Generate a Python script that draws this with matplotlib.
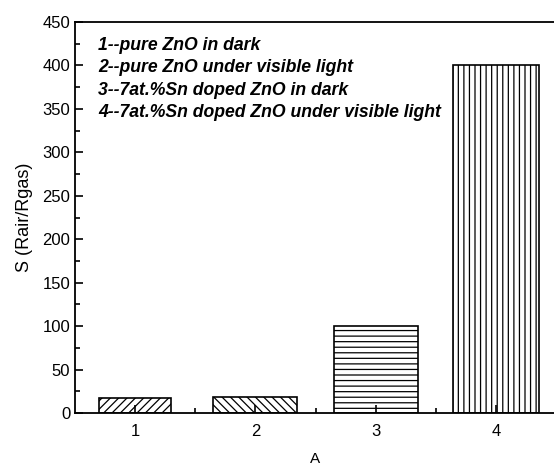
import matplotlib
matplotlib.use("Agg")
import matplotlib.pyplot as plt
from matplotlib.ticker import MultipleLocator, FixedLocator

plt.rcParams['font.family'] = ['Liberation Sans', 'DejaVu Sans']
plt.rcParams['hatch.linewidth'] = 0.9

# sensor response for the four samples
samples = [1, 2, 3, 4]
response = [17, 18, 100, 400]
bar_widths = [0.6, 0.7, 0.7, 0.72]
hatches = ['////', '\\\\\\\\', '---', '|||']
notes = ["1--pure ZnO in dark",
         "2--pure ZnO under visible light",
         "3--7at.%Sn doped ZnO in dark",
         "4--7at.%Sn doped ZnO under visible light"]

fig = plt.figure(figsize=(5.54, 4.67), dpi=100)
# right spine sits just past the edge of the canvas
ax = fig.add_axes([75 / 554, 54 / 467, 481 / 554, 391 / 467])

for x, y, w, h in zip(samples, response, bar_widths, hatches):
    ax.bar(x, y, width=w, color='white', edgecolor='black', hatch=h, linewidth=1.2)

ax.set_xlim(0.5, 4.5)
ax.set_ylim(0, 450)
ax.set_xticks(samples)
ax.xaxis.set_minor_locator(FixedLocator([1.5, 2.5, 3.5]))
ax.yaxis.set_major_locator(MultipleLocator(50))
ax.yaxis.set_minor_locator(MultipleLocator(25))
ax.tick_params(which='both', direction='in', labelsize=12, width=1.2)
ax.tick_params(which='major', length=6)
ax.tick_params(which='minor', length=3.5)
ax.tick_params(axis='x', pad=8)
for s in ax.spines.values():
    s.set_linewidth(1.3)

ax.set_xlabel("A", fontsize=11, labelpad=9)
ax.set_ylabel("S (Rair/Rgas)", fontsize=13, labelpad=7)

for i, t in enumerate(notes):
    ax.text(0.048, 0.94 - i * 0.057, t, transform=ax.transAxes,
            fontsize=12.7, fontweight='bold', fontstyle='italic', va='center')

fig.savefig("out.png", dpi=100)
